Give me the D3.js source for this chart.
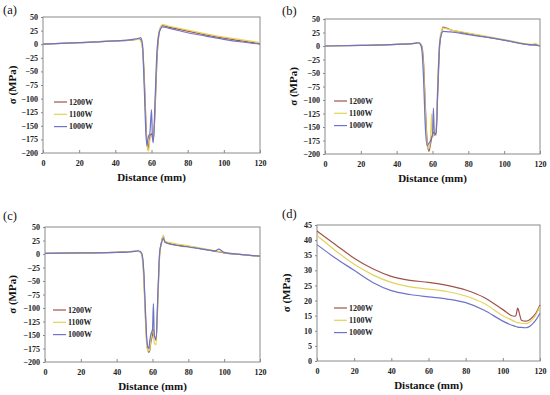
<!DOCTYPE html>
<html>
<head>
<meta charset="utf-8">
<script src="https://cdn.jsdelivr.net/npm/d3@7"></script>
<style>
	body { margin: 0; background: #fff; }
</style>
</head>
<body>
<svg id="chart" width="550" height="395"></svg>
<script>

var series_names = ["1200W", "1100W", "1000W"];
var series_colors = ["#a0524c", "#e4d35a", "#6d74c9"];
var serif = "'Liberation Serif', 'Times New Roman', 'DejaVu Serif', serif";

// panel (a)
var dist_a = [0, 20, 40, 50, 53, 54, 55, 56, 57, 57.5, 58, 58.5, 59, 60, 60.5, 61, 62, 63, 64, 65, 66, 70, 80, 90, 100, 110, 120];
var a_1200 = [0, 3, 6, 8, 10, 8, -5, -60, -150, -180, -194, -185, -172, -165, -170, -176, -120, -30, 15, 30, 34, 31, 24, 17, 11, 6, 1];
var a_1100 = [0, 3, 6, 8, 9, 6, -8, -70, -160, -185, -192, -196, -178, -168, -172, -175, -110, -20, 20, 32, 36, 33, 26, 19, 13, 8, 3];
var a_1000 = [0, 3, 6, 9, 11, 12, 0, -80, -170, -186, -175, -168, -166, -120, -170, -181, -100, -15, 18, 28, 32, 29, 21, 15, 9, 4, 0];

// panel (b)
var dist_b = [0, 20, 40, 50, 52, 53, 54, 55, 56, 57, 58, 59, 59.5, 60, 60.5, 61, 62, 63, 64, 65, 66, 70, 80, 100, 116, 117, 120];
var b_1200 = [0, 1, 3, 5, 6, 5, 0, -30, -110, -175, -195, -180, -170, -165, -160, -165, -160, -80, 0, 25, 35, 30, 23, 11, 2, 2, 0];
var b_1100 = [0, 1, 3, 5, 6, 5, -2, -40, -120, -180, -190, -165, -125, -170, -165, -162, -150, -60, 10, 28, 33, 30, 24, 12, 3, 5, 0];
var b_1000 = [0, 1, 3, 5, 6, 4, -5, -60, -150, -185, -180, -175, -170, -165, -115, -160, -165, -70, 5, 22, 27, 26, 21, 11, 2, 2, 0];

// panel (c)
var dist_c = [0, 20, 40, 50, 52, 53, 54, 55, 56, 57, 58, 58.5, 59, 60, 60.5, 61, 62, 63, 64, 65, 66, 67, 70, 80, 90, 95, 97, 99, 100, 110, 120];
var c_1200 = [1, 2, 3, 5, 5, 4, 0, -30, -110, -170, -182, -178, -165, -150, -140, -150, -160, -80, 0, 22, 33, 22, 19, 14, 8, 5, 4, 3, 2, -1, -4];
var c_1100 = [1, 2, 3, 5, 5, 4, -2, -40, -120, -175, -180, -175, -160, -140, -145, -165, -168, -90, -5, 20, 35, 24, 21, 15, 9, 6, 5, 4, 3, -1, -4];
var c_1000 = [1, 2, 3, 5, 6, 5, 1, -25, -100, -165, -175, -160, -150, -140, -92, -150, -158, -75, 3, 20, 29, 22, 18, 13, 8, 6, 9, 5, 3, -1, -4];

// panel (d)
var dist_d = [0, 10, 20, 30, 40, 50, 60, 70, 80, 90, 100, 106, 107, 108, 109, 110, 112, 114, 116, 118, 120];
var d_1200 = [43, 38.5, 34, 30.5, 28, 26.7, 26, 25, 23.5, 21, 17, 14.8, 15, 17.5, 15.5, 13.5, 13.2, 13.5, 14.5, 16, 18.5];
var d_1100 = [41.5, 36.5, 32, 28.5, 26, 24.5, 23.8, 23, 21.5, 19, 15, 13.2, 12.9, 12.7, 12.6, 12.5, 12.4, 12.7, 13.8, 15.5, 18];
var d_1000 = [38.5, 34, 30, 26, 23.3, 22, 21.2, 20.5, 19.3, 16.8, 13.2, 11.6, 11.4, 11.2, 11.1, 11.1, 11, 11.3, 12.3, 13.8, 15.8];

var x_ticks = [0, 20, 40, 60, 80, 100, 120];
var y_ticks_abc = [50, 25, 0, -25, -50, -75, -100, -125, -150, -175, -200];
var y_ticks_d = [0, 5, 10, 15, 20, 25, 30, 35, 40, 45];

var svg = d3.select("#chart");

function draw_panel(p){
	// p holds the box of the plot area in pixels and the data for one panel
	var x = d3.scaleLinear().domain([0, 120]).range([p.left, p.right]);
	var y = d3.scaleLinear().domain(p.ydomain).range([p.bottom, p.top]);
	var g = svg.append("g");

	// frame
	g.append("rect")
		.attr("x", p.left).attr("y", p.top)
		.attr("width", p.right - p.left).attr("height", p.bottom - p.top)
		.attr("fill", "none").attr("stroke", "#8a8a8a").attr("stroke-width", 1);

	var xaxis = g.append("g")
		.attr("transform", "translate(0," + p.bottom + ")")
		.call(d3.axisBottom(x).tickValues(x_ticks).tickSizeInner(-3).tickSizeOuter(0).tickPadding(7));
	var yaxis = g.append("g")
		.attr("transform", "translate(" + p.left + ",0)")
		.call(d3.axisLeft(y).tickValues(p.yticks).tickSizeInner(2).tickSizeOuter(0).tickPadding(3));
	xaxis.select(".domain").remove();
	yaxis.select(".domain").remove();
	g.selectAll(".tick line").attr("stroke", "#8a8a8a");
	g.selectAll(".tick text")
		.attr("font-family", serif).attr("font-weight", "bold")
		.attr("font-size", 8).attr("fill", "#222");

	var line = d3.line()
		.x(function(d){ return x(d[0]); })
		.y(function(d){ return y(d[1]); })
		.curve(d3.curveMonotoneX);

	// draw 1000W last so its spikes sit on top
	for (var i = 0; i < 3; i++){
		var pts = p.dist.map(function(v, k){ return [v, p.series[i][k]]; });
		g.append("path")
			.datum(pts)
			.attr("d", line)
			.attr("fill", "none")
			.attr("stroke", series_colors[i])
			.attr("stroke-width", 1.2);
	}

	// legend
	for (var j = 0; j < 3; j++){
		var ly = p.leg_y + j * 12.3;
		g.append("line")
			.attr("x1", p.leg_x).attr("x2", p.leg_x + 13)
			.attr("y1", ly).attr("y2", ly)
			.attr("stroke", series_colors[j]).attr("stroke-width", 1.2);
		g.append("text")
			.attr("x", p.leg_x + 15).attr("y", ly + 2.8)
			.attr("font-family", serif)
			.attr("font-size", 8).attr("font-weight", "bold").attr("fill", "#222")
			.text(series_names[j]);
	}

	// titles
	g.append("text")
		.attr("x", (p.left + p.right) / 2).attr("y", p.bottom + 28)
		.attr("text-anchor", "middle")
		.attr("font-family", serif)
		.attr("font-size", 11).attr("font-weight", "bold").attr("fill", "#111")
		.text("Distance (mm)");
	g.append("text")
		.attr("transform", "translate(" + p.ytitle_x + "," + ((p.top + p.bottom) / 2) + ") rotate(-90)")
		.attr("text-anchor", "middle")
		.attr("font-family", serif)
		.attr("font-size", 11).attr("font-weight", "bold").attr("fill", "#111")
		.text("σ (MPa)");
	g.append("text")
		.attr("x", p.label_x).attr("y", p.label_y)
		.attr("font-family", serif)
		.attr("font-size", 12.5).attr("fill", "#111")
		.text(p.label);
}

draw_panel({label: "(a)", label_x: 3, label_y: 14, left: 43, right: 260, top: 17, bottom: 153,
	ydomain: [-200, 50], yticks: y_ticks_abc, ytitle_x: 16, leg_x: 54, leg_y: 102,
	dist: dist_a, series: [a_1200, a_1100, a_1000]});
draw_panel({label: "(b)", label_x: 282, label_y: 15, left: 325, right: 540, top: 19, bottom: 154,
	ydomain: [-200, 50], yticks: y_ticks_abc, ytitle_x: 297, leg_x: 334, leg_y: 101,
	dist: dist_b, series: [b_1200, b_1100, b_1000]});
draw_panel({label: "(c)", label_x: 3, label_y: 220, left: 45, right: 260, top: 227, bottom: 362,
	ydomain: [-200, 50], yticks: y_ticks_abc, ytitle_x: 16, leg_x: 53, leg_y: 310,
	dist: dist_c, series: [c_1200, c_1100, c_1000]});
draw_panel({label: "(d)", label_x: 282, label_y: 218, left: 317, right: 540, top: 225, bottom: 361,
	ydomain: [0, 45], yticks: y_ticks_d, ytitle_x: 290, leg_x: 334, leg_y: 308,
	dist: dist_d, series: [d_1200, d_1100, d_1000]});

</script>
</body>
</html>
